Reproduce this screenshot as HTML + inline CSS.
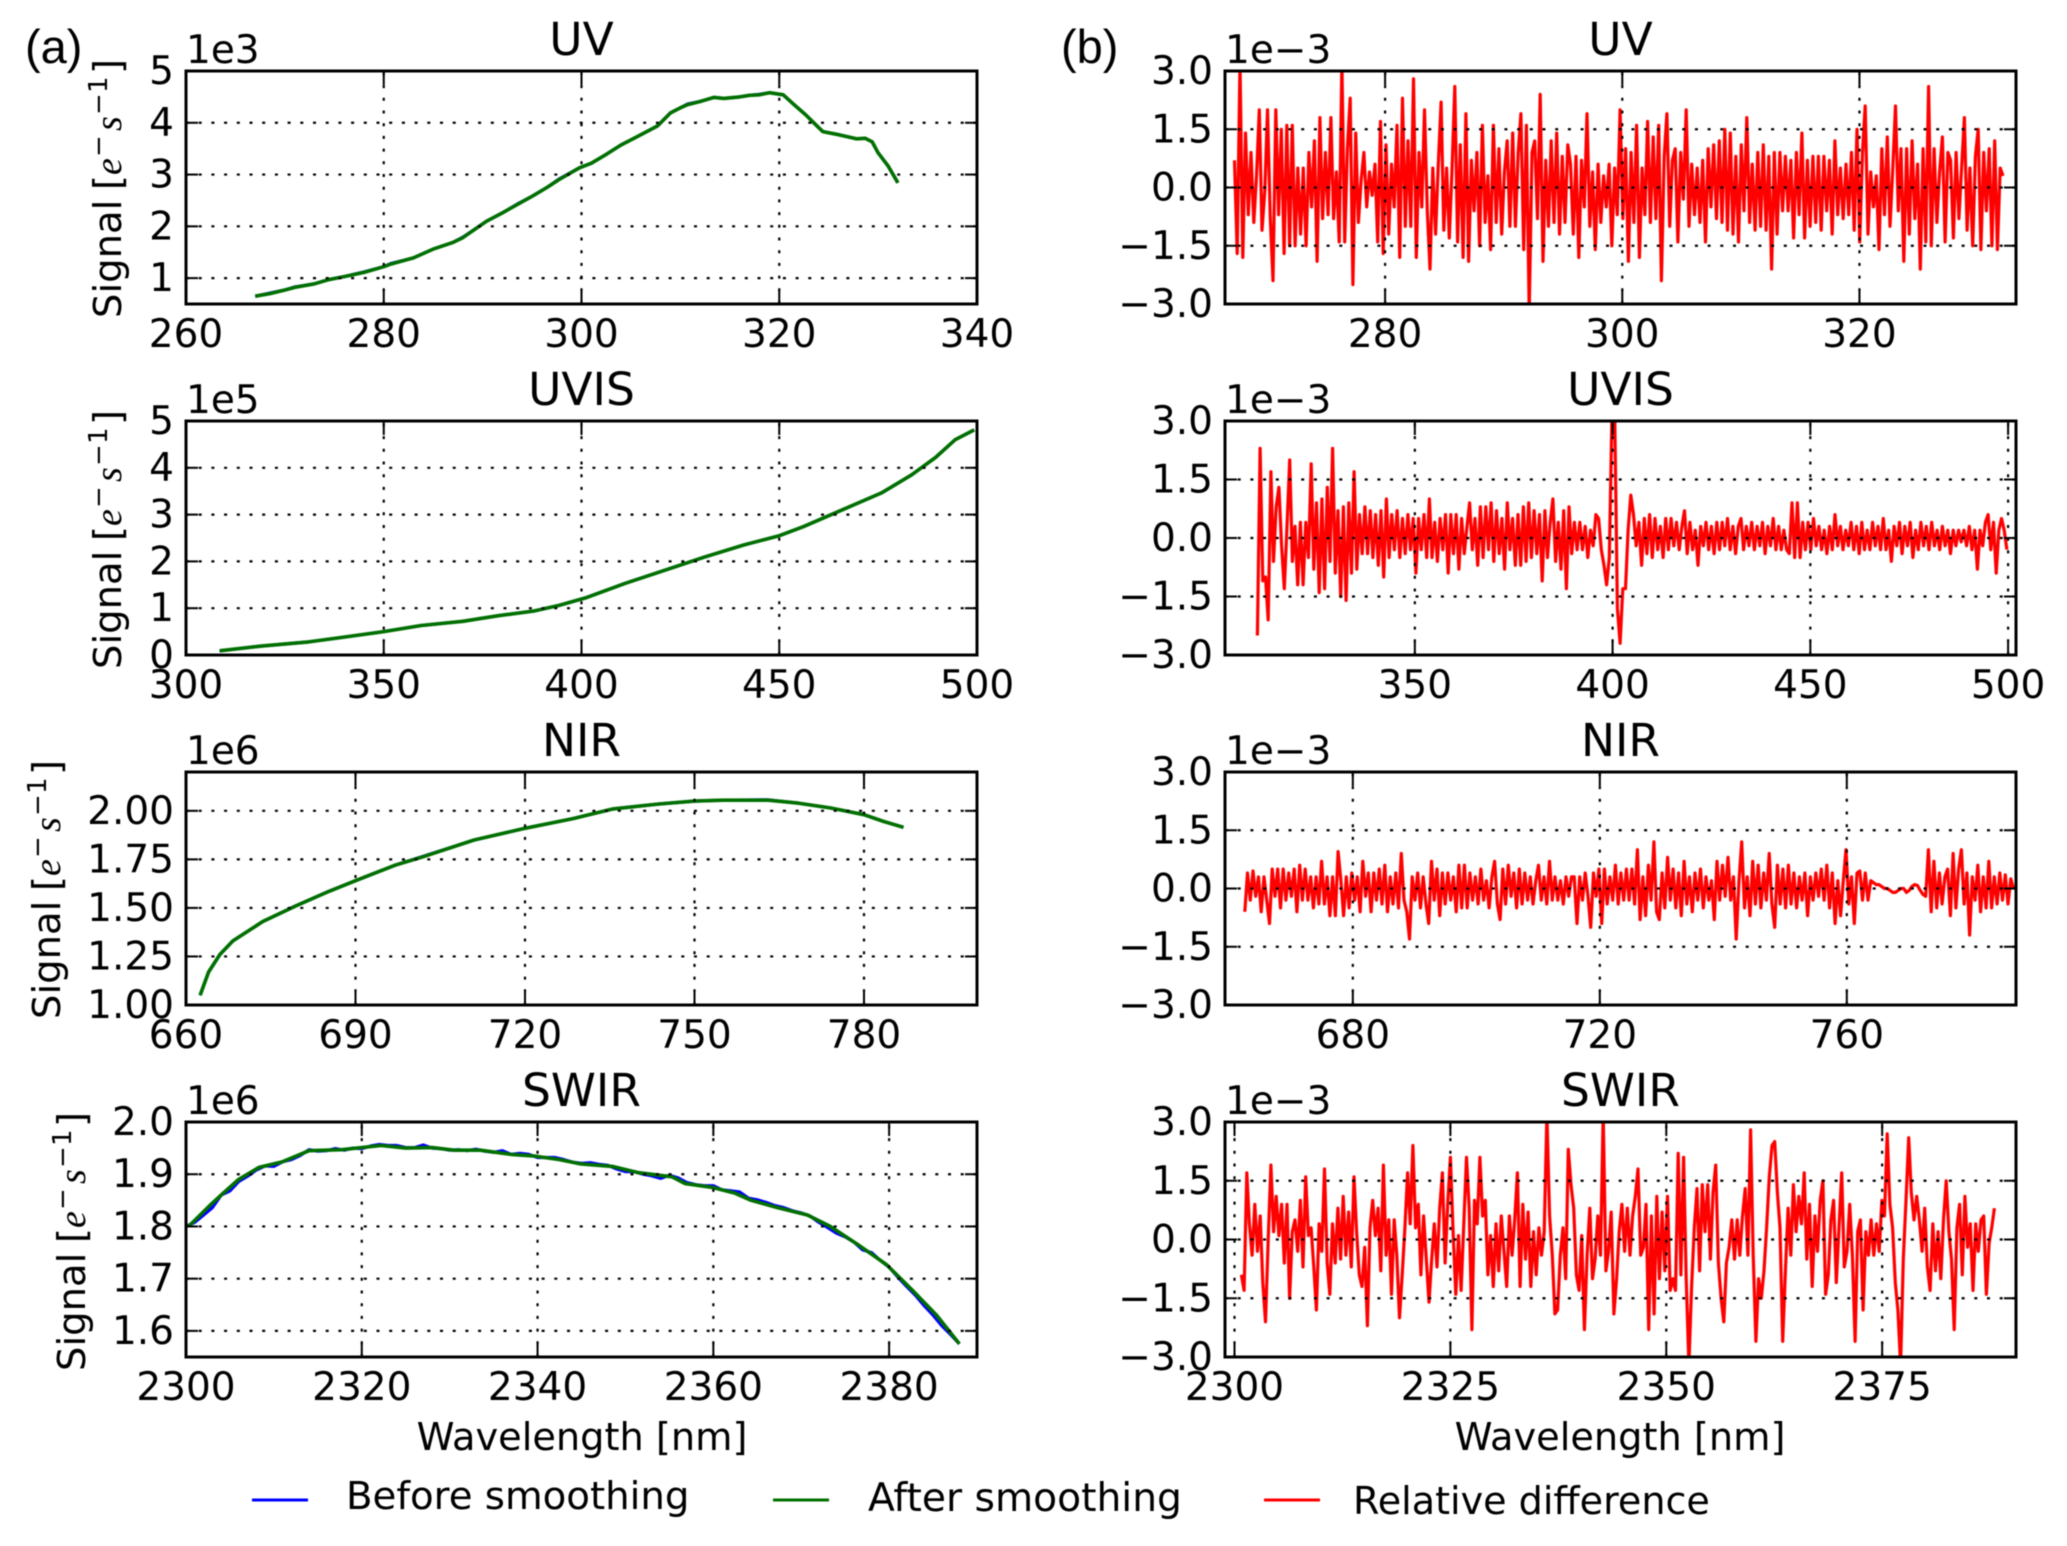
<!DOCTYPE html>
<html lang="en">
<head>
<meta charset="utf-8">
<title>Signal before and after smoothing</title>
<style>
html,body{margin:0;padding:0;background:#fff;}
svg{display:block;filter:blur(0.45px);}
text{font-family:"DejaVu Sans","Liberation Sans",sans-serif;fill:#000;}
.panel-letter{font-family:"Liberation Sans",sans-serif;font-size:47px;}
</style>
</head>
<body>
<svg id="figure" xmlns="http://www.w3.org/2000/svg" width="2067" height="1546" viewBox="0 0 2067 1546">
  <rect x="0" y="0" width="2067" height="1546" fill="#fff"/>
  <text class="panel-letter" x="25" y="63">(a)</text>
  <text class="panel-letter" x="1061" y="63">(b)</text>
  <text x="582" y="1450" font-size="38.3" text-anchor="middle">Wavelength [nm]</text>
  <text x="1620" y="1450" font-size="38.3" text-anchor="middle">Wavelength [nm]</text>
  <g>
    <line x1="252" x2="308" y1="1500" y2="1500" stroke="#0000ff" stroke-width="3"/>
    <text x="346" y="1509" font-size="38.7">Before smoothing</text>
    <line x1="773" x2="829" y1="1500" y2="1500" stroke="#007000" stroke-width="3"/>
    <text x="868" y="1511" font-size="39.2">After smoothing</text>
    <line x1="1264" x2="1320" y1="1500" y2="1500" stroke="#ff0000" stroke-width="3"/>
    <text x="1353" y="1514" font-size="38.1">Relative difference</text>
  </g>
</svg>
<script>
// ---------- Left column: signal (wavelength in nm, signal in axis units) ----------
const uvWave = [267,268.5,270,271,273,274.4,276,278,280,280.7,283,285,287,288,289.2,290.4,292,293.5,295,296.5,297.7,299.8,301,302.5,304,305.5,307.7,309,310,310.7,312,313.4,314.4,316,317,318,319,320.4,321.5,322.7,323.7,324.4,326,327.8,328.7,329.4,330,331,332];
const uvAfter = [0.65,0.7,0.77,0.82,0.89,0.97,1.03,1.11,1.22,1.27,1.39,1.56,1.69,1.78,1.94,2.1,2.26,2.42,2.58,2.75,2.9,3.13,3.22,3.39,3.57,3.72,3.94,4.19,4.29,4.35,4.41,4.49,4.47,4.5,4.53,4.54,4.58,4.54,4.35,4.15,3.96,3.83,3.77,3.69,3.7,3.63,3.42,3.17,2.84];
const uvBefore = [0.65,0.71,0.77,0.83,0.89,0.97,1.03,1.12,1.22,1.28,1.39,1.56,1.69,1.79,1.94,2.1,2.26,2.43,2.58,2.75,2.91,3.13,3.22,3.39,3.57,3.72,3.94,4.19,4.29,4.36,4.41,4.49,4.47,4.5,4.53,4.55,4.58,4.54,4.35,4.15,3.96,3.83,3.77,3.69,3.7,3.63,3.42,3.17,2.84];
const uvXTicks = [260,280,300,320,340];
const uvYTicks = [1,2,3,4,5];
const uvYLabels = ['1','2','3','4','5'];

const uvisWave = [308.5,319,331,339.3,350,359.5,370,379,388,394.3,401,411,421,431,441,450,456,464.5,476,483.5,489.5,494.5,499.3];
const uvisAfter = [0.09,0.19,0.28,0.375,0.5,0.63,0.72,0.84,0.94,1.06,1.22,1.53,1.81,2.09,2.35,2.55,2.74,3.05,3.47,3.85,4.22,4.6,4.81];
const uvisBefore = [0.09,0.19,0.28,0.376,0.5,0.63,0.72,0.84,0.94,1.06,1.22,1.53,1.81,2.09,2.35,2.55,2.74,3.05,3.47,3.85,4.22,4.6,4.81];
const uvisXTicks = [300,350,400,450,500];
const uvisYTicks = [0,1,2,3,4,5];
const uvisYLabels = ['0','1','2','3','4','5'];

const nirWave = [662.5,664,666,668.3,673.6,679.4,685.3,690,697,701.6,711,720,728.5,735.6,743.7,750,755,763,768.3,774,780,783.5,787];
const nirAfter = [1.05,1.17,1.26,1.33,1.43,1.51,1.585,1.64,1.72,1.76,1.85,1.91,1.96,2.01,2.035,2.05,2.055,2.055,2.04,2.015,1.98,1.945,1.915];
const nirBefore = [1.05,1.17,1.26,1.33,1.43,1.51,1.586,1.64,1.72,1.762,1.85,1.91,1.96,2.01,2.035,2.05,2.055,2.057,2.04,2.015,1.98,1.945,1.915];
const nirXTicks = [660,690,720,750,780];
const nirYTicks = [1,1.25,1.5,1.75,2];
const nirYLabels = ['1.00','1.25','1.50','1.75','2.00'];

const swirWave = [2300.3,2302.7,2304.2,2306,2308.3,2311,2314,2317.7,2322.2,2325,2328,2330.5,2333.5,2337,2339.5,2342.5,2344.8,2348.5,2351.5,2355.3,2356.8,2359.8,2362.4,2364.3,2367.3,2370.7,2373.3,2376.3,2379.7,2382.7,2385.4,2388];
const swirAfter = [1.8,1.84,1.863,1.89,1.913,1.924,1.945,1.947,1.955,1.95,1.951,1.946,1.946,1.938,1.935,1.928,1.92,1.915,1.903,1.895,1.882,1.875,1.864,1.85,1.836,1.822,1.8,1.767,1.727,1.677,1.63,1.575];
const swirBeforeRange = [2300,2388];
const swirBefore = [1.800,1.808,1.822,1.836,1.860,1.868,1.886,1.896,1.908,1.916,1.915,1.924,1.928,1.936,1.947,1.944,1.945,1.949,1.946,1.950,1.949,1.954,1.957,1.955,1.955,1.951,1.951,1.956,1.950,1.949,1.946,1.947,1.945,1.948,1.944,1.942,1.945,1.938,1.940,1.938,1.932,1.932,1.932,1.928,1.923,1.921,1.922,1.919,1.917,1.910,1.905,1.905,1.900,1.897,1.892,1.898,1.893,1.884,1.880,1.878,1.878,1.870,1.868,1.866,1.854,1.851,1.846,1.840,1.836,1.830,1.826,1.820,1.808,1.798,1.787,1.780,1.770,1.755,1.750,1.735,1.722,1.703,1.685,1.668,1.648,1.630,1.610,1.593,1.575];
const swirXTicks = [2300,2320,2340,2360,2380];
const swirYTicks = [1.6,1.7,1.8,1.9,2];
const swirYLabels = ['1.6','1.7','1.8','1.9','2.0'];

// ---------- Right column: relative difference, units of 1e-3 ----------
const diffYTicks = [-3,-1.5,0,1.5,3];
const diffYLabels = ['\u22123.0','\u22121.5','0.0','1.5','3.0'];

const uvDiffRange = [267.3,332.1];
const uvDiffXTicks = [280,300,320];
const uvDiff = [
0.7,-1.7,3.2,-1.8,1.4,-0.7,0.9,-0.9,0.3,2.0,-1.1,-0.1,2.0,-0.8,-2.4,2.0,-0.7,1.5,-1.7,1.6,
-1.5,1.6,-1.5,0.5,-1.2,0.5,-1.5,0.9,-0.5,1.2,-1.9,1.8,-0.8,0.9,-0.7,1.8,-0.8,0.4,-1.4,3.2,
-1.4,1.0,2.3,-2.5,1.4,-0.9,0.2,0.9,-0.5,0.4,-0.2,0.6,-1.4,1.7,-1.7,1.1,-1.2,0.6,-0.5,1.6,
-1.8,2.3,-1.0,1.2,-1.0,2.8,-1.8,0.9,-0.5,2.0,-0.6,-2.1,0.5,-1.2,0.6,2.2,-1.1,0.5,-1.3,0.5,
2.6,-1.4,1.1,-1.8,1.9,-1.9,0.7,-0.6,0.9,-1.5,1.6,-0.9,0.3,-1.6,1.6,-0.9,1.0,-1.2,0.4,1.2,
-1.0,1.4,-1.0,0.9,1.9,-1.6,1.6,-3.2,0.9,1.2,-0.8,2.4,-1.9,0.7,-1.0,1.2,-0.9,1.4,-1.2,0.8,
-0.9,1.1,0.6,-1.2,0.8,-1.8,0.7,-0.5,1.9,-1.0,0.4,-1.6,0.6,-0.9,0.3,-0.5,0.6,-1.5,0.5,-0.7,
2.0,-0.8,1.0,-1.9,0.9,-0.9,1.6,-1.8,0.5,-0.7,1.7,-0.9,1.3,-0.8,1.6,-2.4,0.8,1.9,-1.0,0.7,
1.0,-1.4,0.9,-0.3,2.0,-1.0,0.6,-0.7,0.5,-0.9,0.7,-1.4,1.0,-0.5,1.1,-0.8,1.2,-0.9,1.5,-1.1,
1.4,-1.2,0.8,-1.4,1.1,-0.6,1.8,-0.9,0.6,-1.1,0.9,-1.0,1.1,-1.1,0.8,-2.1,0.9,-1.2,0.9,-0.6,
0.8,-0.6,0.7,-1.3,0.9,-0.7,1.4,-1.3,0.7,-1.0,0.8,-0.9,0.8,-1.1,0.8,-0.6,0.7,-1.2,1.2,-0.7,
0.5,-0.8,0.6,-0.7,0.9,-1.1,1.5,-1.4,0.9,2.1,-1.2,0.4,-0.5,0.3,-1.6,1.0,-0.7,1.3,-1.0,0.5,
2.1,-0.6,1.0,-1.9,1.0,-1.2,1.2,-0.8,0.6,-2.1,1.0,-1.4,2.6,-1.5,1.0,-0.9,0.4,1.3,-1.4,0.9,
0.7,-1.3,0.9,-0.8,0.5,1.8,-1.1,0.5,-1.5,0.8,1.5,-1.6,0.9,-0.6,1.0,-1.5,1.2,-1.6,0.5,0.3];

const uvisDiffRange = [310.2,499.7];
const uvisDiffXTicks = [350,400,450,500];
const uvisDiff = [
-2.5,2.3,-1.1,-1.0,-2.1,1.7,-0.6,0.8,1.3,-0.2,-1.3,0.3,2.0,-0.6,0.3,-1.2,0.4,-1.2,0.4,-0.5,
1.9,-0.8,0.9,-1.4,1.0,-1.3,1.3,-0.6,2.3,-0.9,0.7,-1.5,0.8,-1.6,0.9,-0.9,1.7,-0.8,0.6,-0.4,
0.8,-0.4,0.7,-0.5,0.6,-0.7,0.7,-1.0,1.0,-0.5,0.6,-0.3,0.7,-0.5,0.5,-0.4,0.6,-0.3,0.5,-0.9,
0.5,-0.3,0.6,-0.5,1.0,-0.5,0.4,-0.6,0.5,-0.3,0.6,-0.9,0.6,-0.4,0.6,-0.8,0.5,-0.4,0.3,0.9,
-0.3,0.5,-0.7,0.8,-0.5,0.8,-0.3,0.9,-0.6,0.7,-0.4,0.5,-0.8,0.9,-0.3,0.5,-0.7,0.6,-0.7,0.8,
-0.6,0.9,-0.5,0.7,-0.4,0.6,-1.1,0.7,-0.5,0.4,1.0,-0.6,0.4,-0.8,0.7,-1.3,0.8,-0.4,0.4,-0.3,
0.4,-0.3,0.3,-0.5,0.2,-0.2,0.6,0.5,-0.3,-0.7,-1.2,-0.5,3.2,3.2,-1.8,-2.7,-1.3,-1.3,0.2,1.1,
0.6,-0.2,0.4,-0.7,0.5,-0.4,0.6,-0.5,0.5,-0.3,0.3,-0.5,0.5,-0.3,0.5,-0.2,0.4,-0.3,0.3,0.7,
-0.4,0.4,-0.3,0.2,-0.7,0.3,-0.2,0.4,-0.3,0.3,-0.4,0.4,-0.3,0.4,-0.2,0.5,-0.3,0.3,-0.4,0.3,
0.5,-0.3,0.3,-0.2,0.4,-0.3,0.3,-0.2,0.4,-0.4,0.3,-0.2,0.5,-0.3,0.3,-0.3,0.2,-0.3,-0.4,0.9,
-0.5,0.9,-0.5,0.4,-0.3,0.4,-0.3,0.5,-0.2,0.3,-0.3,0.2,-0.4,0.3,-0.3,0.6,-0.2,0.3,-0.3,0.2,
-0.2,0.4,-0.3,0.3,-0.4,0.4,-0.3,0.2,-0.3,0.4,-0.2,0.3,-0.3,0.5,-0.3,0.2,-0.6,0.3,-0.2,0.4,
-0.4,0.3,-0.2,0.4,-0.5,0.2,-0.3,0.4,-0.2,0.3,-0.3,0.4,-0.2,0.2,-0.3,0.3,-0.2,0.2,-0.4,0.2,
-0.2,0.2,-0.1,0.2,-0.2,0.3,-0.3,0.2,-0.8,0.2,-0.2,0.4,0.6,-0.3,0.4,-0.9,0.2,0.5,0.2,-0.3];

const nirDiffRange = [662.5,787];
const nirDiffXTicks = [680,720,760];
const nirDiff = [
-0.6,0.4,-0.3,0.45,-0.2,0.3,-0.6,0.3,-0.3,-0.9,0.5,-0.2,0.5,-0.5,0.5,-0.3,0.4,-0.2,0.5,-0.6,
0.6,-0.3,0.5,-0.3,0.3,-0.5,0.3,-0.4,0.7,-0.4,0.3,-0.7,0.3,-0.7,0.95,0.2,-0.7,0.3,-0.5,0.4,
-0.3,0.3,-0.6,0.7,-0.2,0.4,-0.6,0.4,-0.3,0.5,-0.4,0.6,-0.6,0.3,-0.4,0.4,-0.5,0.9,-0.3,-0.6,
-1.3,0.3,-0.3,0.4,-0.5,0.3,-0.4,-0.9,0.7,-0.3,0.5,-0.7,0.4,-0.4,0.4,-0.3,0.3,-0.6,0.6,-0.5,
0.6,-0.5,0.4,-0.3,0.3,-0.4,0.5,-0.3,0.2,-0.5,0.3,0.7,-0.4,-0.8,0.5,-0.4,0.6,-0.2,0.4,-0.5,
0.5,-0.4,0.4,-0.3,0.3,-0.4,0.2,0.6,-0.3,0.3,-0.4,0.7,-0.3,0.3,-0.3,0.2,-0.4,0.3,-0.2,0.3,
0.3,-0.9,0.3,-0.3,0.4,-0.2,-1.0,0.4,-0.2,0.5,-0.9,0.5,-0.4,0.3,-0.3,0.6,-0.4,0.4,-0.3,0.5,
-0.3,0.5,-0.4,1.0,-0.8,0.3,-0.7,0.6,-0.3,1.2,-0.6,-0.8,0.4,-0.5,0.8,-0.3,0.5,-0.5,0.4,-0.7,
0.7,-0.4,0.3,-0.6,0.4,-0.3,0.5,-0.5,0.3,-0.3,0.2,-0.8,0.7,-0.3,0.6,-0.2,0.8,-0.3,0.3,-1.3,
0.2,1.2,-0.5,0.3,-0.7,0.7,-0.4,0.6,-0.5,0.4,-0.3,0.9,-0.4,-1.0,0.6,-0.4,0.5,-0.5,0.6,-0.4,
0.4,-0.5,0.3,-0.3,0.4,-0.7,0.3,-0.3,0.4,-0.2,0.5,-0.3,0.6,-0.5,0.4,-0.9,0.2,-0.7,0.2,1.0,
-0.4,0.3,-0.9,0.4,0.45,-0.3,0.4,-0.3,0.2,0.15,0.1,0.1,0.05,0.0,0.0,-0.05,-0.1,-0.1,-0.05,0.0,
0.0,-0.1,-0.05,0.05,0.1,0.08,-0.05,-0.15,-0.2,1.0,-0.6,0.7,-0.5,0.4,-0.4,0.3,0.5,-0.7,0.9,-0.5,
0.5,1.0,-0.4,0.4,-1.2,0.3,-0.3,0.6,-0.6,0.3,-0.5,0.7,-0.5,0.3,-0.4,0.4,-0.3,0.35,-0.4,0.25,0.0];

const swirDiffRange = [2300.8,2388];
const swirDiffXTicks = [2300,2325,2350,2375];
const swirDiff = [
-0.9,-1.3,1.7,0.4,-0.4,0.9,-0.3,0.6,-1.1,-2.1,0.0,1.9,0.2,1.1,0.1,0.9,-0.6,0.9,-1.5,0.2,
0.5,-0.3,1.0,-0.7,1.6,0.1,0.3,-0.7,-1.8,0.4,-0.3,1.8,-0.6,-1.4,0.4,-0.6,0.8,-0.5,1.1,-0.4,
0.7,-0.7,1.6,0.2,-0.9,-1.2,-0.2,-2.2,0.3,1.0,0.1,0.8,-0.8,1.9,-0.4,0.5,-1.4,0.5,-0.4,-2.0,
-0.9,0.3,1.7,0.4,2.4,0.3,0.9,-0.9,0.6,-0.5,-1.6,-0.5,0.4,-0.7,0.8,1.7,-0.6,0.9,2.1,0.2,
-1.4,0.1,-1.3,0.4,2.1,0.8,-2.3,1.0,0.4,2.1,0.6,1.0,-0.9,0.1,-1.2,0.4,-0.8,0.6,-0.3,-1.2,
0.6,-0.4,0.5,1.7,-1.2,0.9,-0.5,0.7,-1.2,0.2,-0.9,0.3,-0.4,0.2,3.2,0.6,-0.4,-1.9,-1.8,-0.4,
0.3,-1.0,2.3,1.4,0.8,-0.9,-1.3,0.1,-2.3,-0.4,0.8,-1.0,-0.5,0.6,-0.4,3.2,-0.8,-0.3,0.7,-1.9,
-1.0,0.2,0.9,-0.3,0.8,-0.4,0.6,1.1,1.8,-0.4,-0.2,0.9,-2.3,0.6,-1.9,1.1,-1.0,0.7,-0.8,1.1,
-1.3,-1.0,-1.3,2.2,-0.9,2.1,-1.0,-3.2,-1.2,0.3,1.3,-0.8,1.4,0.2,1.4,-0.5,1.2,1.9,-0.6,-1.5,
-2.1,-0.6,-0.2,0.5,-0.5,0.5,-0.4,0.6,1.3,-0.4,2.8,-0.4,-2.6,-1.0,-1.5,-0.8,0.3,1.6,2.4,2.5,
1.2,0.3,-2.6,-0.8,0.8,-0.4,1.4,0.2,1.1,0.4,1.7,-0.5,0.9,-1.2,0.6,-0.3,1.0,1.5,-1.4,-0.9,
0.5,1.0,-1.1,0.3,1.7,-0.7,-0.3,0.9,-0.4,-2.6,0.2,0.5,-1.8,0.2,-0.4,0.5,-0.4,0.4,-0.3,1.0,
0.6,2.7,0.9,0.3,-1.1,-1.8,-3.2,-0.5,1.0,2.6,1.2,0.5,1.1,0.5,-0.3,0.8,-0.7,-1.3,0.4,-0.8,
0.2,-1.0,0.5,1.5,0.2,-0.5,-2.3,0.3,0.9,-0.9,1.1,-0.2,0.4,-1.3,0.4,-0.3,0.5,0.6,-1.4,-0.1,0.3,0.8];

// ---------- Layout ----------
const NS = 'http://www.w3.org/2000/svg';
const svg = document.getElementById('figure');
const AXIS_W = 791;

function rowTop(row) {
  return row === 0 ? 71 : row === 1 ? 421 : row === 2 ? 772 : 1122;
}
function rowBottom(row) {
  return row === 0 ? 304 : row === 1 ? 655 : row === 2 ? 1005 : 1357;
}
function make(tag, parent, name, attrs) {
  const el = document.createElementNS(NS, tag);
  
  
  for (const k in attrs) el.setAttribute(k, attrs[k]);
  parent.appendChild(el);
  return el;
}
function label(parent, name, x, y, str, size, anchor) {
  const t = make('text', parent, name, {x: x, y: y, 'font-size': size, 'text-anchor': anchor});
  t.textContent = str;
  return t;
}
function span(parent, name, x, y, str, size, style) {
  const t = document.createElementNS(NS, 'tspan');
  
  
  t.setAttribute('x', x);
  t.setAttribute('y', y);
  t.setAttribute('font-size', size);
  if (style) t.setAttribute('style', style);
  t.textContent = str;
  parent.appendChild(t);
}
function yAxisTitle(parent, key, baselineX, bottomY) {
  const serif = 'font-family:"Liberation Serif",serif;font-style:italic';
  const t = make('text', parent, key + '-y-axis-title', {transform: 'translate(' + baselineX + ',' + bottomY + ') rotate(-90)'});
  span(t, key + '-y-title-word', 0, 0, 'Signal ', 38.5);
  span(t, key + '-y-title-open', 128, 0, '[', 38.5);
  span(t, key + '-y-title-e', 143, 0, 'e', 38, serif);
  span(t, key + '-y-title-minus-1', 161, -14, '\u2212', 26);
  span(t, key + '-y-title-s', 187, 0, 's', 38, serif);
  span(t, key + '-y-title-minus-2', 203, -14, '\u2212', 26);
  span(t, key + '-y-title-one', 225, -14, '1', 26);
  span(t, key + '-y-title-close', 244, 0, ']', 38.5);
}
function pathFrom(xs, ys, sx, sy) {
  return xs.map(function (x, i) { return sx(x).toFixed(1) + ',' + sy(ys[i]).toFixed(1); }).join(' ');
}
function spaced(range, n) {
  const out = [];
  for (let i = 0; i < n; i++) out.push(range[0] + (range[1] - range[0]) * i / (n - 1));
  return out;
}

function drawPanel(cfg) {
  const left = cfg.col === 0 ? 186 : 1225;
  const top = rowTop(cfg.row);
  const bottom = rowBottom(cfg.row);
  const axisH = bottom - top, right = left + AXIS_W;
  const sx = function (v) { return left + (v - cfg.xlim[0]) / (cfg.xlim[1] - cfg.xlim[0]) * AXIS_W; };
  const sy = function (v) { return bottom - (v - cfg.ylim[0]) / (cfg.ylim[1] - cfg.ylim[0]) * axisH; };
  const g = make('g', svg, cfg.key + '-panel', {});

  const clipId = cfg.key + '-clip';
  const clip = make('clipPath', g, cfg.key + '-clip-region', {id: clipId});
  make('rect', clip, cfg.key + '-clip-rect', {x: left, y: top, width: AXIS_W, height: axisH});

  const plot = make('g', g, cfg.key + '-plot-area', {'clip-path': 'url(#' + clipId + ')'});
  cfg.series.forEach(function (s) {
    make('polyline', plot, cfg.key + '-line-' + s.name, {
      points: pathFrom(s.x, s.y, sx, sy), fill: 'none', stroke: s.color,
      'stroke-width': s.width, 'stroke-linejoin': 'round'
    });
  });

  const grid = make('g', g, cfg.key + '-grid', {stroke: '#000', 'stroke-width': 2.2, 'stroke-dasharray': '3 9.7', fill: 'none'});
  const ticks = make('g', g, cfg.key + '-ticks', {stroke: '#000', 'stroke-width': 2, fill: 'none'});
  cfg.xTicks.forEach(function (v) {
    const x = sx(v);
    make('line', grid, cfg.key + '-grid-x-' + v, {x1: x, x2: x, y1: bottom, y2: top});
    make('line', ticks, cfg.key + '-tick-x-bottom-' + v, {x1: x, x2: x, y1: bottom, y2: bottom - 14});
    make('line', ticks, cfg.key + '-tick-x-top-' + v, {x1: x, x2: x, y1: top, y2: top + 14});
    label(g, cfg.key + '-x-tick-label-' + v, x, bottom + 43, String(v), 39, 'middle');
  });
  cfg.yTicks.forEach(function (v, i) {
    const y = sy(v);
    make('line', grid, cfg.key + '-grid-y-' + i, {x1: left, x2: right, y1: y, y2: y});
    make('line', ticks, cfg.key + '-tick-y-left-' + i, {x1: left, x2: left + 12, y1: y, y2: y});
    make('line', ticks, cfg.key + '-tick-y-right-' + i, {x1: right, x2: right - 12, y1: y, y2: y});
    label(g, cfg.key + '-y-tick-label-' + i, left - 12, y + 13, cfg.yLabels[i], 39, 'end');
  });

  make('rect', g, cfg.key + '-axes-frame', {x: left, y: top, width: AXIS_W, height: axisH, fill: 'none', stroke: '#000', 'stroke-width': 3});
  label(g, cfg.key + '-title', left + AXIS_W / 2, top - 16, cfg.title, 45.5, 'middle');
  label(g, cfg.key + '-offset-label', left, top - 8, cfg.offset, 39, 'start');
  if (cfg.titleX) yAxisTitle(g, cfg.key, cfg.titleX, bottom + 14);
}

function signalPanel(key, row, title, offset, xlim, ylim, xTicks, yTicks, yLabels, beforeX, before, afterX, after, titleX) {
  drawPanel({key: key, row: row, col: 0, title: title, offset: offset, xlim: xlim, ylim: ylim,
    xTicks: xTicks, yTicks: yTicks, yLabels: yLabels, titleX: titleX,
    series: [
      {name: 'before', x: beforeX, y: before, color: '#0000ff', width: 3.2},
      {name: 'after', x: afterX, y: after, color: '#007000', width: 3.6}
    ]});
}
function diffPanel(key, row, title, xlim, xTicks, range, values) {
  drawPanel({key: key, row: row, col: 1, title: title, offset: '1e\u22123', xlim: xlim, ylim: [-3, 3],
    xTicks: xTicks, yTicks: diffYTicks, yLabels: diffYLabels,
    series: [{name: 'difference', x: spaced(range, values.length), y: values, color: '#ff0000', width: 3.2}]});
}

signalPanel('uv-signal', 0, 'UV', '1e3', [260, 340], [0.5, 5], uvXTicks, uvYTicks, uvYLabels, uvWave, uvBefore, uvWave, uvAfter, 121);
signalPanel('uvis-signal', 1, 'UVIS', '1e5', [300, 500], [0, 5], uvisXTicks, uvisYTicks, uvisYLabels, uvisWave, uvisBefore, uvisWave, uvisAfter, 121);
signalPanel('nir-signal', 2, 'NIR', '1e6', [660, 800], [1, 2.2], nirXTicks, nirYTicks, nirYLabels, nirWave, nirBefore, nirWave, nirAfter, 60);
signalPanel('swir-signal', 3, 'SWIR', '1e6', [2300, 2390], [1.55, 2], swirXTicks, swirYTicks, swirYLabels, spaced(swirBeforeRange, swirBefore.length), swirBefore, swirWave, swirAfter, 85);

diffPanel('uv-diff', 0, 'UV', [266.5, 333.2], uvDiffXTicks, uvDiffRange, uvDiff);
diffPanel('uvis-diff', 1, 'UVIS', [302, 502], uvisDiffXTicks, uvisDiffRange, uvisDiff);
diffPanel('nir-diff', 2, 'NIR', [659.3, 787.4], nirDiffXTicks, nirDiffRange, nirDiff);
diffPanel('swir-diff', 3, 'SWIR', [2298.9, 2390.5], swirDiffXTicks, swirDiffRange, swirDiff);
</script>
</body>
</html>
